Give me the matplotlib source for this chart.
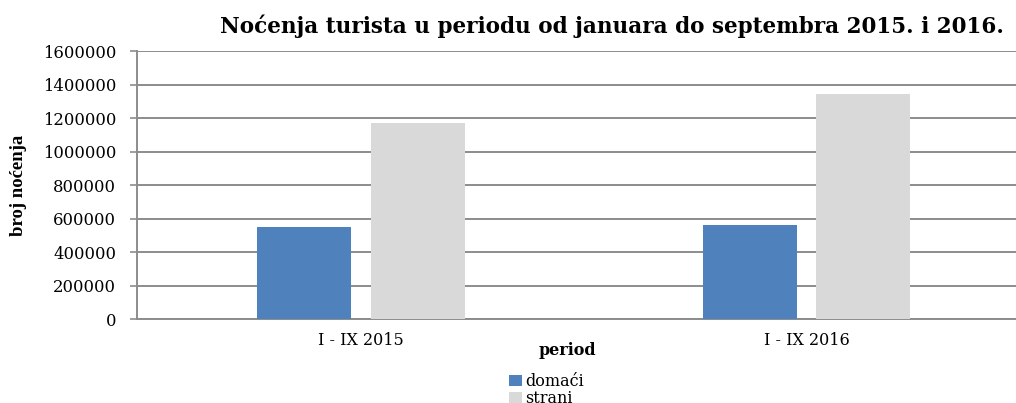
import matplotlib
matplotlib.use("Agg")
import matplotlib.pyplot as plt
import numpy as np

# Data
periods = ["I - IX 2015", "I - IX 2016"]
domaci = [549000, 559000]
strani = [1168000, 1343000]
series_names = ["domaći", "strani"]
yticks = [0, 200000, 400000, 600000, 800000, 1000000, 1200000, 1400000, 1600000]

blue = "#4f81bd"
light = "#d9d9d9"
grid_col = "#8c8c8c"

plt.rcParams["font.family"] = ["DejaVu Serif"]

fig = plt.figure(figsize=(10.16, 4.03), dpi=100)
ax = fig.add_axes([0.1348, 0.2084, 0.8652, 0.665])

x = np.arange(len(periods))
w = 0.211
off = 0.1275
b1 = ax.bar(x - off, domaci, w, color=blue, label=series_names[0], zorder=3)
b2 = ax.bar(x + off, strani, w, color=light, label=series_names[1], zorder=3)

ax.set_xlim(-0.503, 1.47)
ax.set_ylim(0, 1600000)
ax.set_yticks(yticks)
ax.set_yticklabels([str(v) for v in yticks], fontsize=11.8)
ax.set_xticks(x)
ax.set_xticklabels(periods, fontsize=11.5)
ax.tick_params(axis="x", length=0, pad=9)
ax.tick_params(axis="y", length=5, width=1.2, color=grid_col, pad=10)

ax.yaxis.grid(True, color=grid_col, linewidth=1.4, zorder=0)
for s in ["top", "right"]:
    ax.spines[s].set_visible(False)
for s in ["left", "bottom"]:
    ax.spines[s].set_color(grid_col)
    ax.spines[s].set_linewidth(1.4)

ax.set_xlabel("period", fontsize=11.5, fontweight="bold")
ax.xaxis.set_label_coords(0.49, -0.085)
fig.text(0.018, 0.54, "broj noćenja", rotation=90, ha="center", va="center",
         fontsize=13.5, fontweight="bold", family=["Liberation Serif"], stretch="condensed")

fig.text(0.602, 0.935, "Noćenja turista u periodu od januara do septembra 2015. i 2016.",
         ha="center", va="center", fontsize=15.5, fontweight="bold")

fig.legend(handles=[b1, b2], loc="upper center", bbox_to_anchor=(0.538, 0.075),
           ncol=1, frameon=False, fontsize=11.5, handlelength=0.8, handleheight=0.7,
           handletextpad=0.2, labelspacing=0.0, borderaxespad=0, borderpad=0)

fig.savefig("out.png", dpi=100)
